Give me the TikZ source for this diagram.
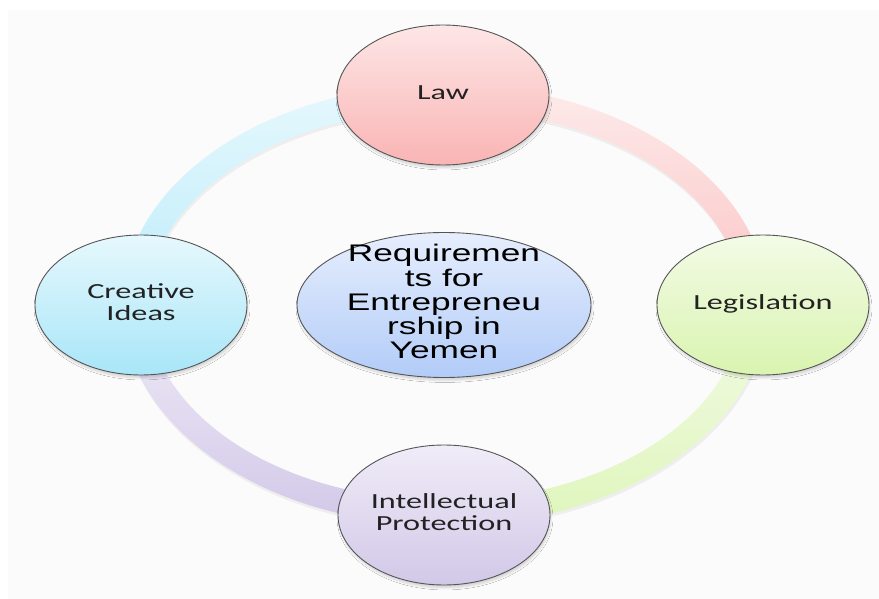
\documentclass[tikz,border=0pt]{standalone}
\usepackage{fontspec}
\setmainfont{Carlito}
\newfontfamily\arialfont{Liberation Sans}
\usetikzlibrary{shapes.geometric,shadows.blur}
\definecolor{lawtop}{HTML}{FDE6E6}
\definecolor{lawbot}{HTML}{FAB4B4}
\definecolor{cretop}{HTML}{E6F8FD}
\definecolor{crebot}{HTML}{A8E6F8}
\definecolor{legtop}{HTML}{F3FBE6}
\definecolor{legbot}{HTML}{D9F4B0}
\definecolor{iptop}{HTML}{F0ECF8}
\definecolor{ipbot}{HTML}{D2C8E8}
\definecolor{centop}{HTML}{E6EEFD}
\definecolor{cenbot}{HTML}{B2CCF8}
\definecolor{textgray}{HTML}{222222}
\definecolor{edgegray}{HTML}{555555}
\tikzset{
  bubble/.style={ellipse, draw=edgegray, line width=0.9pt, minimum width=212, minimum height=140, inner sep=0pt,
    font=\fontsize{21.5}{23}\selectfont, text=textgray,
    blur shadow={shadow xshift=1pt, shadow yshift=-3pt, shadow opacity=15, shadow blur steps=6}},
  hub/.style={ellipse, draw=edgegray, line width=0.9pt, minimum width=294, minimum height=145, inner xsep=-10pt, inner ysep=-25pt,
    font=\arialfont\fontsize{24}{24}\selectfont, text=black,
    blur shadow={shadow xshift=1pt, shadow yshift=-3pt, shadow opacity=15, shadow blur steps=6}},
}
\newcommand{\wlab}[1]{\scalebox{1.5}[1]{\begin{tabular}{@{}c@{}}#1\end{tabular}}}
\newcommand{\hlab}[1]{\scalebox{1.47}[1]{\begin{tabular}{@{}c@{}}#1\end{tabular}}}
\begin{document}
\begin{tikzpicture}[x=1pt,y=-1pt]
\useasboundingbox (0,0) rectangle (879,599);
\fill[white] (0,0) rectangle (879,599);
\fill[black!1.5] (8,10) rectangle (879,599);
% ring geometry: center (445,305), rx 310, ry 208, width 25
\def\cx{445}\def\cy{305}
\def\ro{322.5}\def\rO{220.5}
\def\ri{297.5}\def\rI{195.5}
% soft shadow of ring
\begin{scope}[shift={(1,3)}]
\fill[black, opacity=0.05, even odd rule] (\cx,\cy) ellipse[x radius=\ro, y radius=\rO] (\cx,\cy) ellipse[x radius=\ri, y radius=\rI];
\end{scope}
% top-left quadrant
\shade[top color=cretop, bottom color=crebot!75!white]
  (\cx-\ro,\cy) arc[start angle=180, end angle=270, x radius=\ro, y radius=\rO]
  -- (\cx,\cy-\rI) arc[start angle=270, end angle=180, x radius=\ri, y radius=\rI] -- cycle;
% top-right quadrant
\shade[top color=lawtop!80!white, bottom color=lawbot!80!white]
  (\cx,\cy-\rO) arc[start angle=270, end angle=360, x radius=\ro, y radius=\rO]
  -- (\cx+\ri,\cy) arc[start angle=360, end angle=270, x radius=\ri, y radius=\rI] -- cycle;
% bottom-right quadrant
\shade[top color=legtop, bottom color=legbot!85!white]
  (\cx+\ro,\cy) arc[start angle=0, end angle=90, x radius=\ro, y radius=\rO]
  -- (\cx,\cy+\rI) arc[start angle=90, end angle=0, x radius=\ri, y radius=\rI] -- cycle;
% bottom-left quadrant
\shade[top color=iptop, bottom color=ipbot]
  (\cx,\cy+\rO) arc[start angle=90, end angle=180, x radius=\ro, y radius=\rO]
  -- (\cx-\ri,\cy) arc[start angle=180, end angle=90, x radius=\ri, y radius=\rI] -- cycle;
% nodes
\node[bubble, top color=lawtop, bottom color=lawbot] (law) at (443,95) {\wlab{Law}};
\node[bubble, top color=cretop, bottom color=crebot] (creative) at (141,305) {\wlab{Creative\\[-1pt]Ideas}};
\node[bubble, top color=legtop, bottom color=legbot] (legis) at (763,305) {\wlab{Legislation}};
\node[bubble, top color=iptop, bottom color=ipbot] (ip) at (444,515) {\wlab{Intellectual\\[-1pt]Protection}};
\node[hub, top color=centop, bottom color=cenbot] (center) at (444,305) {\hlab{Requiremen\\ts for\\Entrepreneu\\rship in\\Yemen}};
\end{tikzpicture}
\end{document}
